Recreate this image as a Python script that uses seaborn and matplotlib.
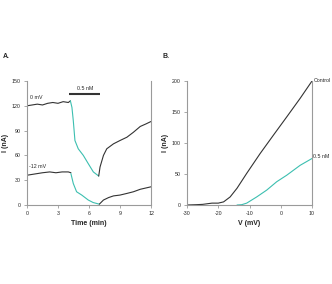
import numpy as np
import pandas as pd
import matplotlib.pyplot as plt
import seaborn as sns

# Panel A: current vs time, two holding potentials
t_0mv_pre = [0, 0.5, 1.0, 1.5, 2.0, 2.5, 3.0, 3.5, 4.0, 4.2]
i_0mv_pre = [120, 121, 122, 121, 123, 124, 123, 125, 124, 126]
t_0mv_drug = [4.2, 4.35, 4.48, 4.64, 4.96, 5.45, 5.93, 6.42, 6.94]
i_0mv_drug = [126, 118, 102, 78, 68, 60, 50, 40, 35]
t_0mv_wash = [6.94, 7.07, 7.4, 7.72, 8.37, 9.0, 9.67, 10.3, 10.96, 11.5, 12.0]
i_0mv_wash = [35, 46, 60, 68, 74, 78, 82, 88, 95, 98, 101]

t_12mv_pre = [0, 0.5, 1.0, 1.5, 2.2, 2.8, 3.4, 4.0, 4.25]
i_12mv_pre = [36, 37, 38, 39, 40, 39, 40, 40, 39]
t_12mv_drug = [4.25, 4.48, 4.8, 5.3, 5.93, 6.4, 7.0]
i_12mv_drug = [38, 26, 16, 12, 6, 3, 1]
t_12mv_wash = [7.0, 7.4, 7.9, 8.37, 9.0, 9.67, 10.3, 10.96, 12.0]
i_12mv_wash = [1, 6, 9, 11, 12, 14, 16, 19, 22]

# Panel B: I-V curves
v_control = [-30, -27, -25, -22, -20, -18.3, -16.2, -14, -10.9, -6.6, -2.3, 1.9, 6.2, 10]
i_control = [0, 0.5, 1, 3, 3, 5, 13, 27, 51, 83, 113, 142, 172, 200]
v_drug = [-14, -12.5, -10.9, -7.7, -4.5, -1.3, 1.9, 6.2, 10]
i_drug = [0, 0.5, 3, 13, 24, 37.5, 48, 64, 75]

black = '#333333'
teal = '#3cbfb0'
grey = '#9a9a9a'

sns.set_style('ticks')
plt.rcParams['font.family'] = ['Liberation Sans', 'DejaVu Sans']
plt.rcParams['axes.unicode_minus'] = False

fig = plt.figure(figsize=(3.32, 2.84), dpi=100)
ax1 = fig.add_axes([0.0813, 0.2782, 0.3735, 0.4366])
ax2 = fig.add_axes([0.5633, 0.2782, 0.3765, 0.4366])

def seg(ax, x, y, c):
    sns.lineplot(x=x, y=y, ax=ax, color=c, lw=0.8, sort=False, estimator=None)

small = 3.8
lab = 5

seg(ax1, t_0mv_pre, i_0mv_pre, black)
seg(ax1, t_0mv_drug, i_0mv_drug, teal)
seg(ax1, t_0mv_wash, i_0mv_wash, black)
seg(ax1, t_12mv_pre, i_12mv_pre, black)
seg(ax1, t_12mv_drug, i_12mv_drug, teal)
seg(ax1, t_12mv_wash, i_12mv_wash, black)
ax1.plot([4.1, 7.07], [134, 134], color=black, lw=1.5, solid_capstyle='butt')
ax1.text(5.6, 138, '0.5 nM', fontsize=small, ha='center', va='bottom')
ax1.text(0.3, 127, '0 mV', fontsize=small, ha='left', va='bottom')
ax1.text(0.2, 44, '-12 mV', fontsize=small, ha='left', va='bottom')
ax1.set_xlim(0, 12)
ax1.set_ylim(0, 150)
ax1.set_xticks([0, 3, 6, 9, 12])
ax1.set_yticks([0, 30, 60, 90, 120, 150])
ax1.set_xlabel('Time (min)', fontsize=lab, fontweight='bold', labelpad=3)
ax1.set_ylabel('I (nA)', fontsize=lab, fontweight='bold')
ax1.yaxis.set_label_coords(-0.149, 0.5)

seg(ax2, v_control, i_control, black)
seg(ax2, v_drug, i_drug, teal)
ax2.text(10.4, 200, 'Control', fontsize=small, ha='left', va='center')
ax2.text(10.4, 78, '0.5 nM', fontsize=small, ha='left', va='center')
ax2.set_xlim(-30, 10)
ax2.set_ylim(0, 200)
ax2.set_xticks([-30, -20, -10, 0, 10])
ax2.set_yticks([0, 50, 100, 150, 200])
ax2.set_xlabel('V (mV)', fontsize=lab, fontweight='bold', labelpad=3)
ax2.set_ylabel('I (nA)', fontsize=lab, fontweight='bold')
ax2.yaxis.set_label_coords(-0.148, 0.5)

for ax in (ax1, ax2):
    ax.spines['top'].set_visible(False)
    for s in ('left', 'bottom', 'right'):
        ax.spines[s].set_color(grey)
        ax.spines[s].set_linewidth(0.8)
    ax.tick_params(labelsize=small, length=2, width=0.6, color=grey, pad=2.5)

fig.text(0.01, 0.80, 'A.', fontsize=5, fontweight='bold', va='center')
fig.text(0.49, 0.80, 'B.', fontsize=5, fontweight='bold', va='center')

fig.savefig('out.png', dpi=100)
